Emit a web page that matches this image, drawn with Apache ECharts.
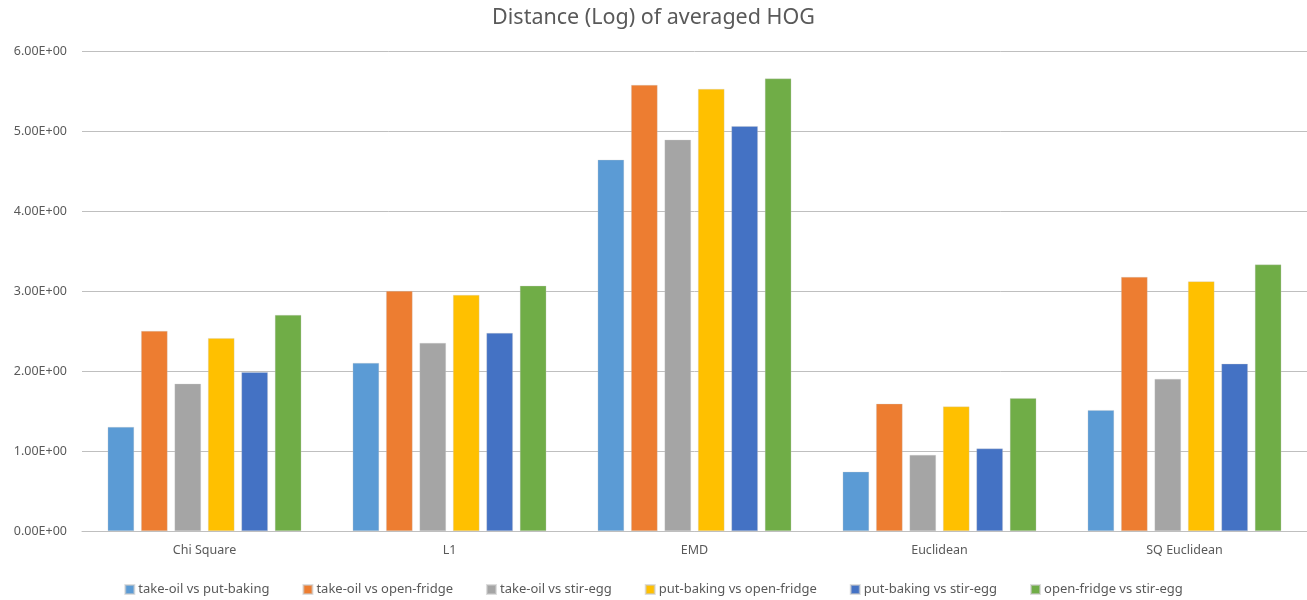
<!DOCTYPE html>
<html>
<head>
<meta charset="utf-8">
<script src="https://cdn.jsdelivr.net/npm/echarts@6/dist/echarts.min.js"></script>
<style>html,body{margin:0;padding:0;background:#fff}#c{width:1307px;height:600px}</style>
</head>
<body>
<div id="c"></div>
<script>
const categories = ["Chi Square", "L1", "EMD", "Euclidean", "SQ Euclidean"];
const seriesNames = ["take-oil vs put-baking", "take-oil vs open-fridge", "take-oil vs stir-egg", "put-baking vs open-fridge", "put-baking vs stir-egg", "open-fridge vs stir-egg"];
const takeOilPutBaking = [1.30, 2.10, 4.64, 0.74, 1.51];
const takeOilOpenFridge = [2.50, 3.00, 5.575, 1.59, 3.175];
const takeOilStirEgg = [1.84, 2.35, 4.89, 0.95, 1.90];
const putBakingOpenFridge = [2.41, 2.95, 5.525, 1.555, 3.12];
const putBakingStirEgg = [1.985, 2.475, 5.06, 1.03, 2.09];
const openFridgeStirEgg = [2.70, 3.065, 5.655, 1.66, 3.33];
const colors = ["#5B9BD5", "#ED7D31", "#A5A5A5", "#FFC000", "#4472C4", "#70AD47"];
const values = [takeOilPutBaking, takeOilOpenFridge, takeOilStirEgg, putBakingOpenFridge, putBakingStirEgg, openFridgeStirEgg];

const font = "'Noto Sans', 'Liberation Sans', sans-serif";
const chart = echarts.init(document.getElementById('c'), null, {renderer: 'canvas'});
chart.setOption({
  animation: false,
  color: colors,
  title: {
    text: "Distance (Log) of averaged HOG",
    left: 'center', top: 2,
    textStyle: {fontFamily: font, fontSize: 21.5, fontWeight: 'normal', color: '#595959'}
  },
  legend: {
    data: seriesNames,
    top: 578, left: 'center',
    itemWidth: 9, itemHeight: 9, itemGap: 33,
    icon: 'rect',
    textStyle: {fontFamily: font, fontSize: 13, color: '#595959', padding: [0, 0, 0, -1]}
  },
  grid: {left: 82, right: 0, top: 51, bottom: 69, containLabel: false},
  xAxis: {
    type: 'category', data: categories,
    axisLine: {lineStyle: {color: '#BFBFBF', width: 1}},
    axisTick: {show: false},
    axisLabel: {fontFamily: font, fontSize: 12.5, color: '#595959', margin: 13}
  },
  yAxis: {
    type: 'value', min: 0, max: 6, interval: 1,
    axisLine: {show: false}, axisTick: {show: false},
    splitLine: {lineStyle: {color: '#BFBFBF', width: 1}},
    axisLabel: {fontFamily: font, fontSize: 12.5, color: '#595959', margin: 15,
      formatter: v => v.toFixed(2) + 'E+00'}
  },
  series: seriesNames.map((n, i) => ({
    name: n, type: 'bar', data: values[i],
    barGap: '27%', barCategoryGap: '21%',
    itemStyle: {color: colors[i], borderColor: 'rgba(200,200,200,0.6)', borderWidth: 0.5}
  }))
});
</script>
</body>
</html>
